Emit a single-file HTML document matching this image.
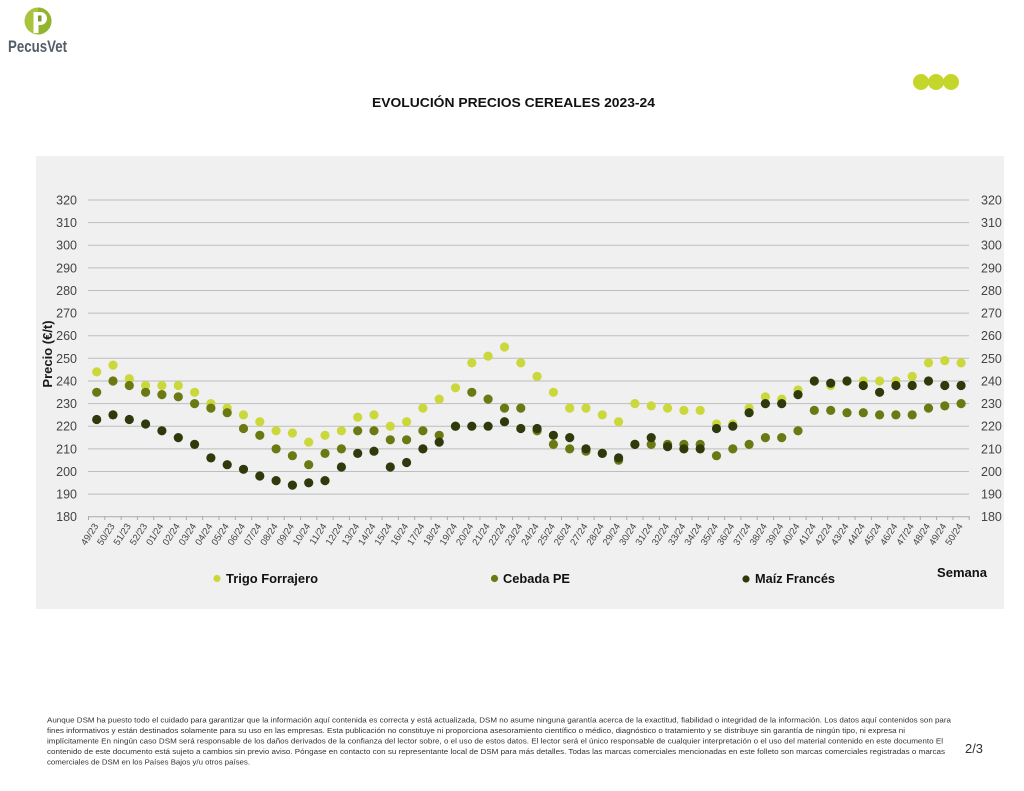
<!DOCTYPE html>
<html><head><meta charset="utf-8"><style>
html,body{margin:0;padding:0;background:#fff;}
svg{display:block;font-family:"Liberation Sans",Arial,sans-serif;}
.t{fill:#cad83c}.c{fill:#6b7913}.m{fill:#2e3a0c}
g.t circle,g.c circle,g.m circle{r:4.6px}
.yl{font-size:12.5px;fill:#444}
.xl{font-size:9.5px;fill:#444}
.ft{font-size:7.6px;fill:#333}
</style></head><body>
<svg width="1024" height="791" viewBox="0 0 1024 791" xmlns="http://www.w3.org/2000/svg">
<rect width="1024" height="791" fill="#fff"/>
<!-- logo -->
<circle cx="38" cy="21" r="13.5" fill="#a9c43c"/>
<path d="M38 7.5 A13.5 13.5 0 0 1 38 34.5 Z" fill="#93b52e"/>
<rect x="33.5" y="12" width="5" height="21" fill="#fff"/>
<path d="M33.5 12 h7 a6.5 6.5 0 0 1 0 13 h-7 z" fill="#fff"/>
<rect x="38" y="15.5" width="3.5" height="6" fill="#7d9a2a"/>
<text x="8" y="52" font-size="17" font-weight="bold" fill="#535c67" textLength="59" lengthAdjust="spacingAndGlyphs">PecusVet</text>
<!-- dots top right -->
<circle cx="921" cy="82" r="8" fill="#c5d62b"/>
<circle cx="936" cy="82" r="8" fill="#c5d62b"/>
<circle cx="951" cy="82" r="8" fill="#c5d62b"/>
<!-- title -->
<text x="372" y="107" font-size="13" font-weight="bold" fill="#111" textLength="283" lengthAdjust="spacingAndGlyphs">EVOLUCIÓN PRECIOS CEREALES 2023-24</text>
<!-- chart box -->
<rect x="36" y="156" width="968" height="453" fill="#f0f0f0"/>
<g stroke="#bdbdbd" stroke-width="1">
<line x1="88" x2="969" y1="200" y2="200"/>
<line x1="88" x2="969" y1="222.6" y2="222.6"/>
<line x1="88" x2="969" y1="245.2" y2="245.2"/>
<line x1="88" x2="969" y1="267.9" y2="267.9"/>
<line x1="88" x2="969" y1="290.5" y2="290.5"/>
<line x1="88" x2="969" y1="313.1" y2="313.1"/>
<line x1="88" x2="969" y1="335.7" y2="335.7"/>
<line x1="88" x2="969" y1="358.3" y2="358.3"/>
<line x1="88" x2="969" y1="381" y2="381"/>
<line x1="88" x2="969" y1="403.6" y2="403.6"/>
<line x1="88" x2="969" y1="426.2" y2="426.2"/>
<line x1="88" x2="969" y1="448.9" y2="448.9"/>
<line x1="88" x2="969" y1="471.5" y2="471.5"/>
<line x1="88" x2="969" y1="494.1" y2="494.1"/>
</g>
<line x1="88" x2="969" y1="516.7" y2="516.7" stroke="#aaa" stroke-width="1"/>
<line x1="88" x2="970" y1="518" y2="518" stroke="#aaa" stroke-width="4" stroke-dasharray="1 15.31"/>
<!-- left labels -->
<g class="yl" text-anchor="end">
<text x="77" y="204.5">320</text><text x="77" y="227.1">310</text><text x="77" y="249.7">300</text>
<text x="77" y="272.4">290</text><text x="77" y="295">280</text><text x="77" y="317.6">270</text>
<text x="77" y="340.2">260</text><text x="77" y="362.8">250</text><text x="77" y="385.5">240</text>
<text x="77" y="408.1">230</text><text x="77" y="430.7">220</text><text x="77" y="453.4">210</text>
<text x="77" y="476">200</text><text x="77" y="498.6">190</text><text x="77" y="521.2">180</text>
</g>
<g class="yl">
<text x="981" y="204.5">320</text><text x="981" y="227.1">310</text><text x="981" y="249.7">300</text>
<text x="981" y="272.4">290</text><text x="981" y="295">280</text><text x="981" y="317.6">270</text>
<text x="981" y="340.2">260</text><text x="981" y="362.8">250</text><text x="981" y="385.5">240</text>
<text x="981" y="408.1">230</text><text x="981" y="430.7">220</text><text x="981" y="453.4">210</text>
<text x="981" y="476">200</text><text x="981" y="498.6">190</text><text x="981" y="521.2">180</text>
</g>
<text transform="translate(52,354) rotate(-90)" text-anchor="middle" font-size="13" font-weight="bold" fill="#1a1a1a">Precio (€/t)</text>
<!-- x labels -->
<g class="xl" text-anchor="end">
<text transform="translate(98.7,526) rotate(-57)">49/23</text>
<text transform="translate(115,526) rotate(-57)">50/23</text>
<text transform="translate(131.3,526) rotate(-57)">51/23</text>
<text transform="translate(147.6,526) rotate(-57)">52/23</text>
<text transform="translate(163.9,526) rotate(-57)">01/24</text>
<text transform="translate(180.3,526) rotate(-57)">02/24</text>
<text transform="translate(196.6,526) rotate(-57)">03/24</text>
<text transform="translate(212.9,526) rotate(-57)">04/24</text>
<text transform="translate(229.2,526) rotate(-57)">05/24</text>
<text transform="translate(245.5,526) rotate(-57)">06/24</text>
<text transform="translate(261.8,526) rotate(-57)">07/24</text>
<text transform="translate(278.1,526) rotate(-57)">08/24</text>
<text transform="translate(294.4,526) rotate(-57)">09/24</text>
<text transform="translate(310.7,526) rotate(-57)">10/24</text>
<text transform="translate(327,526) rotate(-57)">11/24</text>
<text transform="translate(343.4,526) rotate(-57)">12/24</text>
<text transform="translate(359.7,526) rotate(-57)">13/24</text>
<text transform="translate(376,526) rotate(-57)">14/24</text>
<text transform="translate(392.3,526) rotate(-57)">15/24</text>
<text transform="translate(408.6,526) rotate(-57)">16/24</text>
<text transform="translate(424.9,526) rotate(-57)">17/24</text>
<text transform="translate(441.2,526) rotate(-57)">18/24</text>
<text transform="translate(457.5,526) rotate(-57)">19/24</text>
<text transform="translate(473.8,526) rotate(-57)">20/24</text>
<text transform="translate(490.1,526) rotate(-57)">21/24</text>
<text transform="translate(506.5,526) rotate(-57)">22/24</text>
<text transform="translate(522.8,526) rotate(-57)">23/24</text>
<text transform="translate(539.1,526) rotate(-57)">24/24</text>
<text transform="translate(555.4,526) rotate(-57)">25/24</text>
<text transform="translate(571.7,526) rotate(-57)">26/24</text>
<text transform="translate(588,526) rotate(-57)">27/24</text>
<text transform="translate(604.3,526) rotate(-57)">28/24</text>
<text transform="translate(620.6,526) rotate(-57)">29/24</text>
<text transform="translate(636.9,526) rotate(-57)">30/24</text>
<text transform="translate(653.2,526) rotate(-57)">31/24</text>
<text transform="translate(669.6,526) rotate(-57)">32/24</text>
<text transform="translate(685.9,526) rotate(-57)">33/24</text>
<text transform="translate(702.2,526) rotate(-57)">34/24</text>
<text transform="translate(718.5,526) rotate(-57)">35/24</text>
<text transform="translate(734.8,526) rotate(-57)">36/24</text>
<text transform="translate(751.1,526) rotate(-57)">37/24</text>
<text transform="translate(767.4,526) rotate(-57)">38/24</text>
<text transform="translate(783.7,526) rotate(-57)">39/24</text>
<text transform="translate(800,526) rotate(-57)">40/24</text>
<text transform="translate(816.3,526) rotate(-57)">41/24</text>
<text transform="translate(832.7,526) rotate(-57)">42/24</text>
<text transform="translate(849,526) rotate(-57)">43/24</text>
<text transform="translate(865.3,526) rotate(-57)">44/24</text>
<text transform="translate(881.6,526) rotate(-57)">45/24</text>
<text transform="translate(897.9,526) rotate(-57)">46/24</text>
<text transform="translate(914.2,526) rotate(-57)">47/24</text>
<text transform="translate(930.5,526) rotate(-57)">48/24</text>
<text transform="translate(946.8,526) rotate(-57)">49/24</text>
<text transform="translate(963.1,526) rotate(-57)">50/24</text>
</g>
<!-- Trigo -->
<g class="t">
<circle r="4.3" cx="96.7" cy="371.9"/><circle r="4.3" cx="113" cy="365.1"/><circle r="4.3" cx="129.3" cy="378.7"/><circle r="4.3" cx="145.6" cy="385.5"/><circle r="4.3" cx="161.9" cy="385.5"/><circle r="4.3" cx="178.3" cy="385.5"/><circle r="4.3" cx="194.6" cy="392.3"/><circle r="4.3" cx="210.9" cy="403.6"/><circle r="4.3" cx="227.2" cy="408.1"/><circle r="4.3" cx="243.5" cy="414.9"/>
<circle r="4.3" cx="259.8" cy="421.7"/><circle r="4.3" cx="276.1" cy="430.8"/><circle r="4.3" cx="292.4" cy="433"/><circle r="4.3" cx="308.7" cy="442.1"/><circle r="4.3" cx="325" cy="435.3"/><circle r="4.3" cx="341.4" cy="430.8"/><circle r="4.3" cx="357.7" cy="417.2"/><circle r="4.3" cx="374" cy="414.9"/><circle r="4.3" cx="390.3" cy="426.2"/><circle r="4.3" cx="406.6" cy="421.7"/>
<circle r="4.3" cx="422.9" cy="408.1"/><circle r="4.3" cx="439.2" cy="399.1"/><circle r="4.3" cx="455.5" cy="387.8"/><circle r="4.3" cx="471.8" cy="362.9"/><circle r="4.3" cx="488.1" cy="356.1"/><circle r="4.3" cx="504.5" cy="347"/><circle r="4.3" cx="520.8" cy="362.9"/><circle r="4.3" cx="537.1" cy="376.4"/><circle r="4.3" cx="553.4" cy="392.3"/><circle r="4.3" cx="569.7" cy="408.1"/>
<circle r="4.3" cx="586" cy="408.1"/><circle r="4.3" cx="602.3" cy="414.9"/><circle r="4.3" cx="618.6" cy="421.7"/><circle r="4.3" cx="634.9" cy="403.6"/><circle r="4.3" cx="651.2" cy="405.9"/><circle r="4.3" cx="667.6" cy="408.1"/><circle r="4.3" cx="683.9" cy="410.4"/><circle r="4.3" cx="700.2" cy="410.4"/><circle r="4.3" cx="716.5" cy="424"/><circle r="4.3" cx="732.8" cy="424"/>
<circle r="4.3" cx="749.1" cy="408.1"/><circle r="4.3" cx="765.4" cy="396.8"/><circle r="4.3" cx="781.7" cy="399.1"/><circle r="4.3" cx="798" cy="390"/><circle r="4.3" cx="814.3" cy="381"/><circle r="4.3" cx="830.7" cy="385.5"/><circle r="4.3" cx="847" cy="381"/><circle r="4.3" cx="863.3" cy="381"/><circle r="4.3" cx="879.6" cy="381"/><circle r="4.3" cx="895.9" cy="381"/>
<circle r="4.3" cx="912.2" cy="376.4"/><circle r="4.3" cx="928.5" cy="362.9"/><circle r="4.3" cx="944.8" cy="360.6"/><circle r="4.3" cx="961.1" cy="362.9"/>
</g>
<!-- Cebada -->
<g class="c">
<circle r="4.3" cx="96.7" cy="392.3"/><circle r="4.3" cx="113" cy="381"/><circle r="4.3" cx="129.3" cy="385.5"/><circle r="4.3" cx="145.6" cy="392.3"/><circle r="4.3" cx="161.9" cy="394.6"/><circle r="4.3" cx="178.3" cy="396.8"/><circle r="4.3" cx="194.6" cy="403.6"/><circle r="4.3" cx="210.9" cy="408.1"/><circle r="4.3" cx="227.2" cy="412.7"/><circle r="4.3" cx="243.5" cy="428.5"/>
<circle r="4.3" cx="259.8" cy="435.3"/><circle r="4.3" cx="276.1" cy="448.9"/><circle r="4.3" cx="292.4" cy="455.7"/><circle r="4.3" cx="308.7" cy="464.7"/><circle r="4.3" cx="325" cy="453.4"/><circle r="4.3" cx="341.4" cy="448.9"/><circle r="4.3" cx="357.7" cy="430.8"/><circle r="4.3" cx="374" cy="430.8"/><circle r="4.3" cx="390.3" cy="439.8"/><circle r="4.3" cx="406.6" cy="439.8"/>
<circle r="4.3" cx="422.9" cy="430.8"/><circle r="4.3" cx="439.2" cy="435.3"/><circle r="4.3" cx="455.5" cy="426.2"/><circle r="4.3" cx="471.8" cy="392.3"/><circle r="4.3" cx="488.1" cy="399.1"/><circle r="4.3" cx="504.5" cy="408.1"/><circle r="4.3" cx="520.8" cy="408.1"/><circle r="4.3" cx="537.1" cy="430.8"/><circle r="4.3" cx="553.4" cy="444.4"/><circle r="4.3" cx="569.7" cy="448.9"/>
<circle r="4.3" cx="586" cy="451.2"/><circle r="4.3" cx="602.3" cy="453.4"/><circle r="4.3" cx="618.6" cy="460.2"/><circle r="4.3" cx="634.9" cy="444.4"/><circle r="4.3" cx="651.2" cy="444.4"/><circle r="4.3" cx="667.6" cy="444.4"/><circle r="4.3" cx="683.9" cy="444.4"/><circle r="4.3" cx="700.2" cy="444.4"/><circle r="4.3" cx="716.5" cy="455.7"/><circle r="4.3" cx="732.8" cy="448.9"/>
<circle r="4.3" cx="749.1" cy="444.4"/><circle r="4.3" cx="765.4" cy="437.6"/><circle r="4.3" cx="781.7" cy="437.6"/><circle r="4.3" cx="798" cy="430.8"/><circle r="4.3" cx="814.3" cy="410.4"/><circle r="4.3" cx="830.7" cy="410.4"/><circle r="4.3" cx="847" cy="412.7"/><circle r="4.3" cx="863.3" cy="412.7"/><circle r="4.3" cx="879.6" cy="414.9"/><circle r="4.3" cx="895.9" cy="414.9"/>
<circle r="4.3" cx="912.2" cy="414.9"/><circle r="4.3" cx="928.5" cy="408.1"/><circle r="4.3" cx="944.8" cy="405.9"/><circle r="4.3" cx="961.1" cy="403.6"/>
</g>
<!-- Maiz -->
<g class="m">
<circle r="4.3" cx="96.7" cy="419.5"/><circle r="4.3" cx="113" cy="414.9"/><circle r="4.3" cx="129.3" cy="419.5"/><circle r="4.3" cx="145.6" cy="424"/><circle r="4.3" cx="161.9" cy="430.8"/><circle r="4.3" cx="178.3" cy="437.6"/><circle r="4.3" cx="194.6" cy="444.4"/><circle r="4.3" cx="210.9" cy="457.9"/><circle r="4.3" cx="227.2" cy="464.7"/><circle r="4.3" cx="243.5" cy="469.3"/>
<circle r="4.3" cx="259.8" cy="476"/><circle r="4.3" cx="276.1" cy="480.6"/><circle r="4.3" cx="292.4" cy="485.1"/><circle r="4.3" cx="308.7" cy="482.8"/><circle r="4.3" cx="325" cy="480.6"/><circle r="4.3" cx="341.4" cy="467"/><circle r="4.3" cx="357.7" cy="453.4"/><circle r="4.3" cx="374" cy="451.2"/><circle r="4.3" cx="390.3" cy="467"/><circle r="4.3" cx="406.6" cy="462.5"/>
<circle r="4.3" cx="422.9" cy="448.9"/><circle r="4.3" cx="439.2" cy="442.1"/><circle r="4.3" cx="455.5" cy="426.2"/><circle r="4.3" cx="471.8" cy="426.2"/><circle r="4.3" cx="488.1" cy="426.2"/><circle r="4.3" cx="504.5" cy="421.7"/><circle r="4.3" cx="520.8" cy="428.5"/><circle r="4.3" cx="537.1" cy="428.5"/><circle r="4.3" cx="553.4" cy="435.3"/><circle r="4.3" cx="569.7" cy="437.6"/>
<circle r="4.3" cx="586" cy="448.9"/><circle r="4.3" cx="602.3" cy="453.4"/><circle r="4.3" cx="618.6" cy="457.9"/><circle r="4.3" cx="634.9" cy="444.4"/><circle r="4.3" cx="651.2" cy="437.6"/><circle r="4.3" cx="667.6" cy="446.6"/><circle r="4.3" cx="683.9" cy="448.9"/><circle r="4.3" cx="700.2" cy="448.9"/><circle r="4.3" cx="716.5" cy="428.5"/><circle r="4.3" cx="732.8" cy="426.2"/>
<circle r="4.3" cx="749.1" cy="412.7"/><circle r="4.3" cx="765.4" cy="403.6"/><circle r="4.3" cx="781.7" cy="403.6"/><circle r="4.3" cx="798" cy="394.6"/><circle r="4.3" cx="814.3" cy="381"/><circle r="4.3" cx="830.7" cy="383.2"/><circle r="4.3" cx="847" cy="381"/><circle r="4.3" cx="863.3" cy="385.5"/><circle r="4.3" cx="879.6" cy="392.3"/><circle r="4.3" cx="895.9" cy="385.5"/>
<circle r="4.3" cx="912.2" cy="385.5"/><circle r="4.3" cx="928.5" cy="381"/><circle r="4.3" cx="944.8" cy="385.5"/><circle r="4.3" cx="961.1" cy="385.5"/>
</g>
<!-- legend -->
<circle class="t" cx="217" cy="578.5" r="3.6"/>
<text x="226" y="583" font-size="12.5" font-weight="bold" fill="#111" textLength="92" lengthAdjust="spacingAndGlyphs">Trigo Forrajero</text>
<circle class="c" cx="494.5" cy="578.5" r="3.6"/>
<text x="503" y="583" font-size="12.5" font-weight="bold" fill="#111" textLength="67" lengthAdjust="spacingAndGlyphs">Cebada PE</text>
<circle class="m" cx="746" cy="579" r="3.6"/>
<text x="755" y="583" font-size="12.5" font-weight="bold" fill="#111" textLength="80" lengthAdjust="spacingAndGlyphs">Maíz Francés</text>
<text x="937" y="577" font-size="12.5" font-weight="bold" fill="#111" textLength="50" lengthAdjust="spacingAndGlyphs">Semana</text>
<!-- footer -->
<text class="ft" x="47" y="722.5" textLength="904" lengthAdjust="spacingAndGlyphs">Aunque DSM ha puesto todo el cuidado para garantizar que la información aquí contenida es correcta y está actualizada, DSM no asume ninguna garantía acerca de la exactitud, fiabilidad o integridad de la información. Los datos aquí contenidos son para</text>
<text class="ft" x="47" y="733" textLength="858" lengthAdjust="spacingAndGlyphs">fines informativos y están destinados solamente para su uso en las empresas. Esta publicación no constituye ni proporciona asesoramiento científico o médico, diagnóstico o tratamiento y se distribuye sin garantía de ningún tipo, ni expresa ni</text>
<text class="ft" x="47" y="743.5" textLength="896" lengthAdjust="spacingAndGlyphs">implícitamente En ningún caso DSM será responsable de los daños derivados de la confianza del lector sobre, o el uso de estos datos. El lector será el único responsable de cualquier interpretación o el uso del material contenido en este documento El</text>
<text class="ft" x="47" y="754" textLength="898" lengthAdjust="spacingAndGlyphs">contenido de este documento está sujeto a cambios sin previo aviso. Póngase en contacto con su representante local de DSM para más detalles. Todas las marcas comerciales mencionadas en este folleto son marcas comerciales registradas o marcas</text>
<text class="ft" x="47" y="764.5" textLength="203" lengthAdjust="spacingAndGlyphs">comerciales de DSM en los Países Bajos y/u otros países.</text>
<text x="965" y="753" font-size="13" fill="#333" textLength="18" lengthAdjust="spacingAndGlyphs">2/3</text>
</svg>
</body></html>
